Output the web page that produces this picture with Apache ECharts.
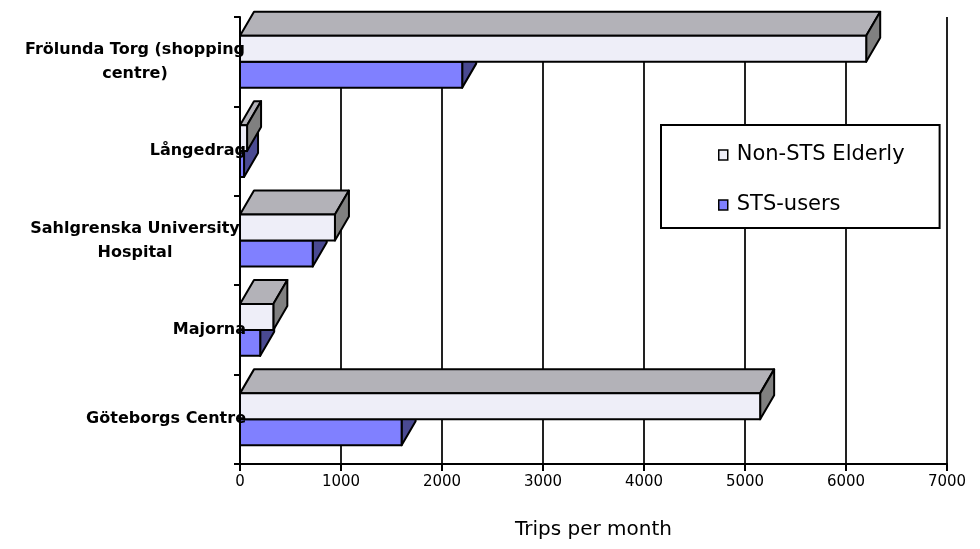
<!DOCTYPE html>
<html>
<head>
<meta charset="utf-8">
<script src="https://cdn.jsdelivr.net/npm/echarts@6/dist/echarts.min.js"></script>
<style>
  html, body { margin: 0; padding: 0; background: #ffffff; }
  #chart { width: 980px; height: 549px; }
</style>
</head>
<body>
<div id="chart"></div>
<script>
// Destinations, top to bottom
const categories = [
  'Frölunda Torg (shopping centre)',
  'Långedrag',
  'Sahlgrenska University Hospital',
  'Majorna',
  'Göteborgs Centre'
];
// Trips per month
const nonStsElderly = [6200, 70, 940, 330, 5150];
const stsUsers = [2200, 40, 720, 200, 1600];
const xTicks = [0, 1000, 2000, 3000, 4000, 5000, 6000, 7000];

// Box geometry (pixels / band fraction)
const BAR_RATIO = 0.29;
const DEPTH_X = 14;
const DEPTH_Y = 24;
const FONT = "'DejaVu Sans', Verdana, sans-serif";

const faces = {
  nonSts: { front: '#EEEEF8', top: '#B3B2B8', side: '#808080' },
  sts: { front: '#8080FF', top: '#6060C0', side: '#4A4A92' }
};

function box3d(colors, upper) {
  return function (params, api) {
    const cat = api.value(1);
    const val = api.value(0);
    const start = api.coord([0, cat]);
    const end = api.coord([val, cat]);
    const band = api.size([0, 1])[1];
    const h = band * BAR_RATIO;
    const yTop = upper ? start[1] - h : start[1];
    const yBot = yTop + h;
    const x0 = start[0];
    const x1 = end[0];
    const edge = { stroke: '#000', lineWidth: 2, lineJoin: 'round' };
    return {
      type: 'group',
      children: [
        {
          type: 'polygon',
          shape: { points: [[x0, yTop], [x1, yTop], [x1 + DEPTH_X, yTop - DEPTH_Y], [x0 + DEPTH_X, yTop - DEPTH_Y]] },
          style: Object.assign({ fill: colors.top }, edge)
        },
        {
          type: 'polygon',
          shape: { points: [[x1, yTop], [x1 + DEPTH_X, yTop - DEPTH_Y], [x1 + DEPTH_X, yBot - DEPTH_Y], [x1, yBot]] },
          style: Object.assign({ fill: colors.side }, edge)
        },
        {
          type: 'rect',
          shape: { x: x0, y: yTop, width: x1 - x0, height: h },
          style: Object.assign({ fill: colors.front }, edge)
        }
      ]
    };
  };
}

// Wrap long category names onto several lines
const LABEL_SIZE = 16;
const measureCtx = document.createElement('canvas').getContext('2d');
measureCtx.font = 'bold ' + LABEL_SIZE + 'px ' + FONT;
function wrapLabel(text, maxWidth) {
  const words = text.split(' ');
  const lines = [];
  let line = '';
  words.forEach(function (w) {
    const trial = line ? line + ' ' + w : w;
    if (line && measureCtx.measureText(trial).width > maxWidth) {
      lines.push(line);
      line = w;
    } else {
      line = trial;
    }
  });
  if (line) lines.push(line);
  return lines;
}

const chart = echarts.init(document.getElementById('chart'), null, { renderer: 'canvas' });

chart.setOption({
  backgroundColor: '#ffffff',
  animation: false,
  grid: { left: 240, right: 33, top: 17, bottom: 85, containLabel: false },
  legend: {
    orient: 'vertical',
    left: 661,
    top: 125,
    padding: [19, 35, 12, 57],
    itemGap: 28,
    itemWidth: 9,
    itemHeight: 10,
    icon: 'rect',
    borderColor: '#000',
    borderWidth: 2,
    backgroundColor: '#ffffff',
    textStyle: { fontFamily: FONT, fontSize: 21, color: '#000', lineHeight: 22, padding: [0, 0, 0, 4] },
    data: [
      { name: 'Non-STS Elderly', itemStyle: { color: faces.nonSts.front, borderColor: '#000', borderWidth: 1.5 } },
      { name: 'STS-users', itemStyle: { color: faces.sts.front, borderColor: '#000', borderWidth: 1.5 } }
    ]
  },
  xAxis: {
    type: 'value',
    min: xTicks[0],
    max: xTicks[xTicks.length - 1],
    interval: xTicks[1] - xTicks[0],
    z: 0,
    name: 'Trips per month',
    nameLocation: 'middle',
    nameGap: 56,
    nameTextStyle: { fontFamily: FONT, fontSize: 20, color: '#000' },
    axisLine: { show: true, lineStyle: { color: '#000', width: 2 } },
    axisTick: { show: true, length: 7, lineStyle: { color: '#000', width: 2 } },
    axisLabel: {
      fontFamily: FONT, fontSize: 15, color: '#000', margin: 11,
      formatter: function (v) { return String(v); }
    },
    splitLine: { show: true, lineStyle: { color: '#222', width: 2 } }
  },
  yAxis: {
    type: 'category',
    data: categories,
    inverse: true,
    z: 10,
    axisLine: { show: true, lineStyle: { color: '#000', width: 2 } },
    axisTick: { show: true, length: 6, lineStyle: { color: '#000', width: 2 } },
    splitLine: { show: false },
    axisLabel: {
      margin: -6,
      align: 'right',
      fontFamily: FONT,
      fontSize: LABEL_SIZE,
      fontWeight: 'bold',
      color: '#000',
      lineHeight: 24,
      formatter: function (value) {
        const lines = wrapLabel(value, 235);
        if (lines.length === 1) return value;
        return lines.map(function (l) { return '{c|' + l + '}'; }).join('\n');
      },
      rich: {
        c: {
          width: 222,
          align: 'center',
          fontFamily: FONT,
          fontSize: LABEL_SIZE,
          fontWeight: 'bold',
          color: '#000',
          lineHeight: 24
        }
      }
    }
  },
  series: [
    {
      name: 'Non-STS Elderly',
      type: 'custom',
      z: 3,
      clip: false,
      itemStyle: { color: faces.nonSts.front },
      encode: { x: 0, y: 1 },
      renderItem: box3d(faces.nonSts, true),
      data: nonStsElderly.map(function (v, i) { return [v, i]; })
    },
    {
      name: 'STS-users',
      type: 'custom',
      z: 2,
      clip: false,
      itemStyle: { color: faces.sts.front },
      encode: { x: 0, y: 1 },
      renderItem: box3d(faces.sts, false),
      data: stsUsers.map(function (v, i) { return [v, i]; })
    }
  ]
});
</script>
</body>
</html>
